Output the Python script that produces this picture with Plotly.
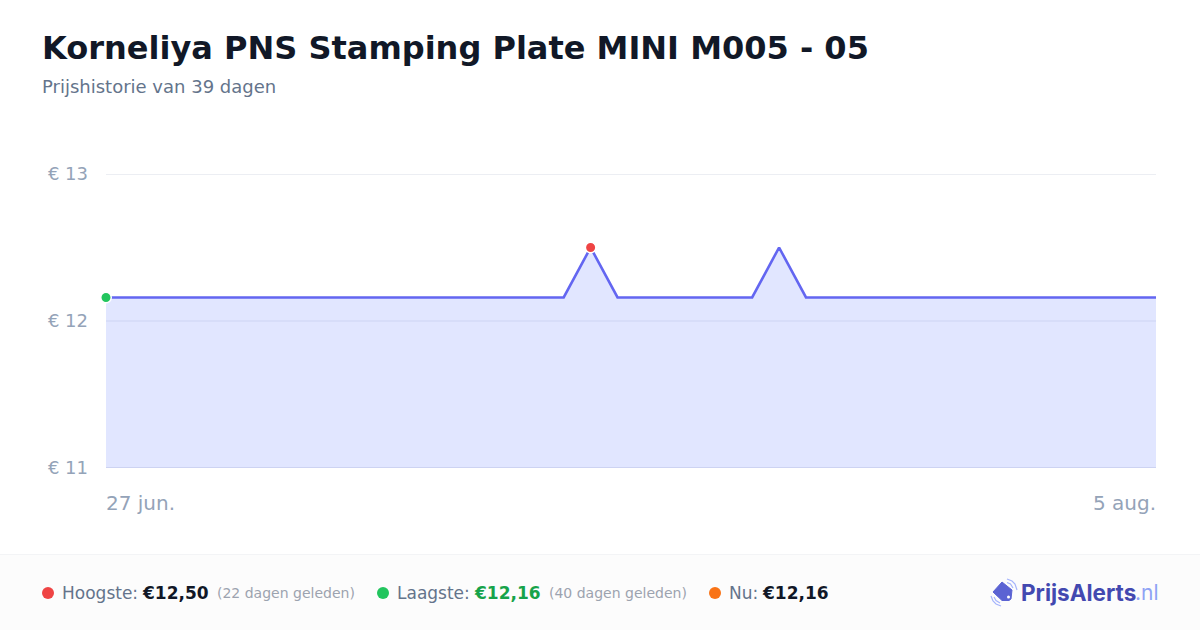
import plotly.graph_objects as go
import pandas as pd

title = "Korneliya PNS Stamping Plate MINI M005 - 05"
subtitle = "Prijshistorie van 39 dagen"
dates = pd.date_range("2025-06-27", "2025-08-05").strftime("%Y-%m-%d").tolist()
prices = [12.16] * 18 + [12.50] + [12.16] * 6 + [12.50] + [12.16] * 14
y_ticks = [11, 12, 13]
y_labels = ["€ 11", "€ 12", "€ 13"]
x_labels = ["27 jun.", "5 aug."]
high_idx = 18
low_idx = 0

W, H = 1200, 630
FONT = "DejaVu Sans"
def px(x): return x / W
def py(y): return 1 - y / H

fig = go.Figure()
fig.add_trace(go.Scatter(x=dates, y=prices, mode="lines", fill="tozeroy",
                         fillcolor="rgba(193,203,255,0.48)",
                         line=dict(color="#6366f1", width=2.6), hoverinfo="skip"))
fig.add_trace(go.Scatter(x=[dates[high_idx]], y=[prices[high_idx]], mode="markers", cliponaxis=False,
                         marker=dict(color="#ef4444", size=10.5, line=dict(color="white", width=1.5)), hoverinfo="skip"))
fig.add_trace(go.Scatter(x=[dates[low_idx]], y=[prices[low_idx]], mode="markers", cliponaxis=False,
                         marker=dict(color="#22c55e", size=10.5, line=dict(color="white", width=1.5)), hoverinfo="skip"))

def text(x, y, s, size, color, anchor="left", bold=False, font=FONT):
    fig.add_annotation(xref="paper", yref="paper", x=px(x), y=py(y), text=f"<b>{s}</b>" if bold else s,
                       showarrow=False, xanchor=anchor, yanchor="middle", align=anchor,
                       font=dict(family=font, size=size, color=color), borderpad=0, borderwidth=0)

text(42, 48, title, 32, "#111827", bold=True)
text(42, 87, subtitle, 18, "#64748b")

for d, lab, anc, sh in zip([dates[0], dates[-1]], x_labels, ["left", "right"], [-1, 1]):
    fig.add_annotation(xref="x", yref="paper", x=d, y=py(503), text=lab, showarrow=False, xanchor=anc, xshift=sh,
                       yanchor="middle", font=dict(family=FONT, size=20, color="#94a3b8"), borderpad=0)

shapes = [
    dict(type="rect", xref="paper", yref="paper", x0=0, x1=1, y0=0, y1=py(555), fillcolor="#fcfcfc",
         line=dict(width=0), layer="below"),
    dict(type="line", xref="paper", yref="paper", x0=0, x1=1, y0=py(554.5), y1=py(554.5),
         line=dict(color="#f3f4f6", width=1), layer="below"),
]
for v, c in [(y_ticks[0], "#d9dbe6"), (y_ticks[2], "#eceef3")]:
    shapes.append(dict(type="line", xref="x domain", yref="y", x0=0, x1=1, y0=v, y1=v,
                       line=dict(color=c, width=2), layer="below"))
for cx, c in [(48, "#ef4444"), (383, "#22c55e"), (715, "#f97316")]:
    shapes.append(dict(type="circle", xref="paper", yref="paper", x0=px(cx - 6), x1=px(cx + 6),
                       y0=py(593 + 6), y1=py(593 - 6), fillcolor=c, line=dict(width=0)))

def path(points, close=False):
    s = "M " + " L ".join(f"{px(a):.5f},{py(b):.5f}" for a, b in points)
    return s + (" Z" if close else "")

shapes.append(dict(type="path", xref="paper", yref="paper",
                   path=path([(1002, 582), (1012, 590), (1011, 599), (1009, 600.5), (1002, 600.5), (993, 592)], True),
                   fillcolor="#5b63d3", line=dict(color="#5b63d3", width=1)))
shapes.append(dict(type="circle", xref="paper", yref="paper", x0=px(1007), x1=px(1010), y0=py(598.5), y1=py(595.5),
                   fillcolor="white", line=dict(width=0)))
for pts, w in [([(1007, 579), (1012, 581), (1015, 584), (1017, 590)], 1.2),
               ([(1007, 582.5), (1010.5, 584), (1013, 588)], 1.2),
               ([(991, 596), (993, 601), (996, 604), (1001, 606)], 1.2),
               ([(994, 597), (996, 600.5), (1000, 603)], 1.2)]:
    shapes.append(dict(type="path", xref="paper", yref="paper", path=path(pts),
                       line=dict(color="#a5b4fc", width=w)))

text(62, 593, "Hoogste:", 17, "#64748b")
text(141.5, 593, "€12,50", 17, "#111827", bold=True)
text(217, 593, "(22 dagen geleden)", 14, "#9ca3af")
text(397, 593, "Laagste:", 17, "#64748b")
text(473.5, 593, "€12,16", 17, "#16a34a", bold=True)
text(549, 593, "(40 dagen geleden)", 14, "#9ca3af")
text(729, 593, "Nu:", 17, "#64748b")
text(761.5, 593, "€12,16", 17, "#111827", bold=True)
text(1021, 592.5, "PrijsAlerts", 22.5, "#4349b0", bold=True, font="Inter")
text(1135, 592.5, ".nl", 21, "#8ea2f5", font="Inter")

fig.update_layout(
    width=W, height=H, margin=dict(l=0, r=0, t=0, b=0, pad=0), showlegend=False,
    paper_bgcolor="white", plot_bgcolor="rgba(0,0,0,0)", shapes=shapes,
    xaxis=dict(domain=[px(106), px(1156)], range=[dates[0], dates[-1]], type="date", showgrid=False, automargin=False,
               zeroline=False, showticklabels=False, ticks="", showline=False),
    yaxis=dict(domain=[py(468), py(174)], range=[11, 13], tickvals=y_ticks, ticktext=y_labels, showgrid=True, automargin=False,
               gridcolor="#eceef3", gridwidth=1.5, zeroline=False, showline=False, ticks="", ticklabelstandoff=17,
               tickfont=dict(family=FONT, size=18, color="#94a3b8")),
)
fig.write_html("out.html", config={"displayModeBar": False},
               post_script="document.body.style.margin='0';")
